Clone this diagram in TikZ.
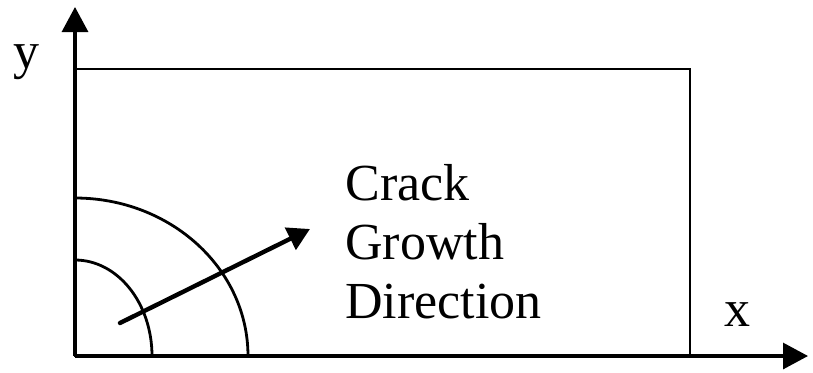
\documentclass[tikz,border=0pt]{standalone}
\usepackage{fontspec}
\setmainfont{Liberation Serif}
\usetikzlibrary{arrows.meta,positioning}

\begin{document}
\begin{tikzpicture}[x=0.5pt,y=0.5pt,>={Triangle[length=12.5pt,width=13pt]},
   every node/.style={font=\fontsize{26}{29.5}\selectfont,inner sep=0pt},
   axis/.style={line width=1.6pt,->},
   edge/.style={line width=1.4pt}]
  \useasboundingbox (0,0) rectangle (813,372);
  \coordinate (O) at (75,16);
  \coordinate (ytip) at (75,365);
  \coordinate (xtip) at (808,16);
  \coordinate (corner) at (690,303);
  \coordinate (cs) at (120,49);
  \coordinate (ce) at (310,143);
  % plate and axes
  \draw[edge] (O) rectangle (corner);
  \draw[axis] (O) -- (ytip);
  \draw[axis] (O) -- (xtip);
  \node (ylab) [anchor=base west] at (13,304) {y};
  \node (xlab) [anchor=base west] at (724,46) {x};
  % crack fronts
  \draw[edge] (O) ++(77,0) arc[start angle=0,end angle=90,x radius=77,y radius=96];
  \draw[edge] (O) ++(173,0) arc[start angle=0,end angle=90,x radius=173,y radius=158];
  \draw[line width=2.2pt,line cap=round,
        -{Triangle[length=11pt,width=12pt]}] (cs) -- (ce);
  \node (label) [anchor=base west,align=left] at (345,54) {Crack\\Growth\\Direction};
\end{tikzpicture}
\end{document}
